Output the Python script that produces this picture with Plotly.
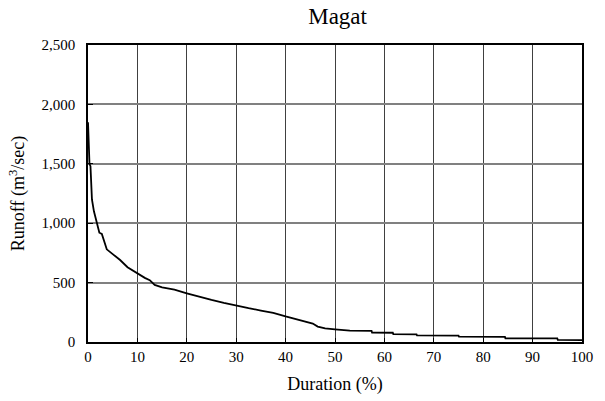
import plotly.graph_objects as go

duration = [0, 0.1, 0.3, 0.5, 0.6, 0.8, 1.2, 1.8, 2.3, 2.8, 3.2, 3.8, 5, 6.5, 8, 10,
            11.5, 12.5, 13.5, 15, 17.5, 20, 22.5, 25, 27.5, 30, 32.5, 35, 37.5, 40,
            42, 44, 45.5, 46.5, 48, 50, 53, 57.4, 57.5, 61.7, 61.8, 66.5, 66.6,
            75, 75.1, 84.4, 84.5, 95, 95.1, 100]
runoff = [1850, 1700, 1500, 1480, 1300, 1200, 1100, 1000, 920, 910, 850, 780, 740, 690, 630, 575,
          540, 520, 480, 460, 440, 410, 380, 355, 330, 305, 285, 265, 245, 215,
          195, 175, 155, 130, 115, 107, 95, 93, 80, 78, 67, 65, 56,
          54, 45, 43, 31, 30, 17, 15]

x_ticks = [0, 10, 20, 30, 40, 50, 60, 70, 80, 90, 100]
y_ticks = [0, 500, 1000, 1500, 2000, 2500]

font = "Liberation Serif, serif"

fig = go.Figure()
fig.add_trace(go.Scatter(x=duration, y=runoff, mode="lines",
                         line=dict(color="black", width=1.8), showlegend=False))

fig.update_layout(
    width=605, height=401,
    margin=dict(l=88, r=23, t=45, b=59),
    paper_bgcolor="white", plot_bgcolor="white",
    font=dict(family=font, size=15, color="black"),
    title=dict(text="Magat", x=0.558, xanchor="center", y=0.96, yanchor="middle",
               font=dict(family=font, size=23, color="black")),
    xaxis=dict(range=[0, 100], tickvals=x_ticks, ticktext=[str(v) for v in x_ticks],
               showgrid=True, gridcolor="#404040", gridwidth=1,
               showline=True, linecolor="black", linewidth=1.5, mirror=True,
               ticks="inside", ticklen=4, tickcolor="black", zeroline=False,
               automargin=False,
               tickfont=dict(family=font, size=15),
               title=dict(text="Duration (%)", font=dict(family=font, size=18), standoff=14)),
    yaxis=dict(range=[0, 2500], tickvals=y_ticks, ticktext=["0", "500", "1,000", "1,500", "2,000", "2,500"],
               showgrid=True, gridcolor="#808080", gridwidth=1.5,
               showline=True, linecolor="black", linewidth=1.5, mirror=True,
               ticks="inside", ticklen=5, tickcolor="black", zeroline=False,
               automargin=False,
               tickfont=dict(family=font, size=15),
               ticklabelstandoff=8,
               title=dict(text="Runoff (m<sup>3</sup>/sec)", font=dict(family=font, size=18), standoff=12)),
)

fig.write_html("out.html")
